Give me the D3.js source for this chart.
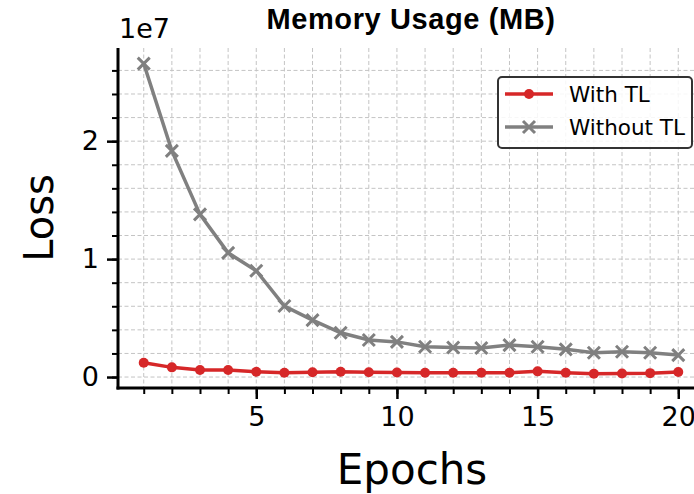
<!DOCTYPE html>
<html>
<head>
<meta charset="utf-8">
<script src="https://cdn.jsdelivr.net/npm/d3@7"></script>
<style>
  body { margin: 0; background: #fff; }
  text { font-family: "DejaVu Sans", sans-serif; fill: #000; }
</style>
</head>
<body>
<svg id="canvas"></svg>
<script>
// Memory usage loss curves

let epochs = [1, 2, 3, 4, 5, 6, 7, 8, 9, 10, 11, 12, 13, 14, 15, 16, 17, 18, 19, 20]
let withTL = [1.21e6, 0.82e6, 0.59e6, 0.59e6, 0.45e6, 0.36e6, 0.40e6, 0.45e6, 0.40e6, 0.38e6,
              0.36e6, 0.36e6, 0.36e6, 0.36e6, 0.48e6, 0.36e6, 0.28e6, 0.30e6, 0.33e6, 0.42e6]
let withoutTL = [26.58e6, 19.18e6, 13.79e6, 10.53e6, 9.01e6, 6.02e6, 4.83e6, 3.75e6, 3.14e6, 2.98e6,
                 2.57e6, 2.50e6, 2.46e6, 2.71e6, 2.57e6, 2.35e6, 2.06e6, 2.14e6, 2.06e6, 1.86e6]
let seriesNames = ['With TL', 'Without TL']
let xTicks = [5, 10, 15, 20]
let yTicks = [0, 1e7, 2e7]

//Dimensions
let width = 694
let height = 494
let plotLeft = 118
let plotRight = 705
let plotTop = 48
let plotBottom = 388

let red = '#d62728'
let grey = '#808080'

let svg = d3.select('#canvas')
            .attr('width', width)
            .attr('height', height)

let xScale = d3.scaleLinear()
               .domain([0.05, 20.95])
               .range([plotLeft - 1, plotRight])
let yScale = d3.scaleLinear()
               .domain([-0.093e7, 2.79e7])
               .range([plotBottom, plotTop])

let yMinor = d3.range(0, 2.7e7, 0.2e7)

// grid
let grid = svg.append('g')
grid.selectAll('.vgrid')
    .data(epochs)
    .enter()
    .append('line')
    .attr('x1', d => xScale(d)).attr('x2', d => xScale(d))
    .attr('y1', plotTop).attr('y2', plotBottom)
    .attr('stroke', '#c4c4c4').attr('stroke-width', 1).attr('stroke-dasharray', '4,2.5')
grid.selectAll('.hgrid')
    .data(yMinor)
    .enter()
    .append('line')
    .attr('x1', plotLeft).attr('x2', width)
    .attr('y1', d => yScale(d)).attr('y2', d => yScale(d))
    .attr('stroke', '#c4c4c4').attr('stroke-width', 1).attr('stroke-dasharray', '4,2.5')

// axes
let xAxisMinor = d3.axisBottom(xScale).tickValues(epochs).tickSize(6).tickFormat('')
let xAxis = d3.axisBottom(xScale).tickValues(xTicks).tickSize(11).tickPadding(8)
let yAxisMinor = d3.axisLeft(yScale).tickValues(yMinor).tickSize(6).tickFormat('')
let yAxis = d3.axisLeft(yScale).tickValues(yTicks).tickSize(11).tickPadding(8)
              .tickFormat(d => d / 1e7)

let addAxis = (axis, transform, sw) => {
  let g = svg.append('g').attr('transform', transform).call(axis)
  g.select('.domain').remove()
  g.selectAll('.tick line').attr('stroke', '#000').attr('stroke-width', sw)
  g.selectAll('.tick text').style('font-size', '27px').attr('fill', '#000')
  return g
}
addAxis(xAxisMinor, `translate(0,${plotBottom})`, 2)
addAxis(xAxis, `translate(0,${plotBottom})`, 2.5)
addAxis(yAxisMinor, `translate(${plotLeft},0)`, 2)
addAxis(yAxis, `translate(${plotLeft},0)`, 2.5)

// spines
svg.append('line').attr('x1', plotLeft).attr('x2', plotLeft).attr('y1', plotTop).attr('y2', plotBottom + 1.5)
   .attr('stroke', '#000').attr('stroke-width', 3)
svg.append('line').attr('x1', plotLeft - 1.5).attr('x2', width).attr('y1', plotBottom).attr('y2', plotBottom)
   .attr('stroke', '#000').attr('stroke-width', 3)

// lines
let line = d3.line()
             .x((d, i) => xScale(epochs[i]))
             .y(d => yScale(d))

svg.append('path').datum(withoutTL)
   .attr('d', line).attr('fill', 'none').attr('stroke', grey).attr('stroke-width', 3.5)
svg.append('path').datum(withTL)
   .attr('d', line).attr('fill', 'none').attr('stroke', red).attr('stroke-width', 3.5)

let xMark = (sel, s) => {
  sel.append('path')
     .attr('d', `M${-s},${-s}L${s},${s}M${-s},${s}L${s},${-s}`)
     .attr('stroke', grey).attr('stroke-width', 3).attr('fill', 'none')
}

svg.selectAll('.xm')
   .data(withoutTL)
   .enter()
   .append('g')
   .attr('transform', (d, i) => `translate(${xScale(epochs[i])},${yScale(d)})`)
   .call(xMark, 6)

svg.selectAll('.dot')
   .data(withTL)
   .enter()
   .append('circle')
   .attr('cx', (d, i) => xScale(epochs[i]))
   .attr('cy', d => yScale(d))
   .attr('r', 5)
   .attr('fill', red)

// texts
svg.append('text')
   .attr('x', 411).attr('y', 29)
   .attr('text-anchor', 'middle')
   .style('font-family', '"Liberation Sans", Arial, sans-serif')
   .style('font-weight', 'bold')
   .style('font-size', '29px')
   .style('letter-spacing', '0.6px')
   .text('Memory Usage (MB)')

svg.append('text')
   .attr('x', 119).attr('y', 38)
   .style('font-size', '27px')
   .text('1e7')

svg.append('text')
   .attr('transform', 'translate(53,218) rotate(-90)')
   .attr('text-anchor', 'middle')
   .style('font-size', '40px')
   .text('Loss')

svg.append('text')
   .attr('x', 412).attr('y', 484)
   .attr('text-anchor', 'middle')
   .style('font-size', '42px')
   .text('Epochs')

// legend
let legend = svg.append('g')
legend.append('rect')
      .attr('x', 498).attr('y', 77).attr('width', 194).attr('height', 71)
      .attr('rx', 4)
      .attr('fill', 'rgba(255,255,255,0.85)').attr('stroke', '#333').attr('stroke-width', 2)

let rows = legend.selectAll('.row')
                 .data(seriesNames)
                 .enter()
                 .append('g')
                 .attr('transform', (d, i) => `translate(505,${94 + i * 33})`)
rows.append('line')
    .attr('x1', 0).attr('x2', 48)
    .attr('stroke', (d, i) => i === 0 ? red : grey)
    .attr('stroke-width', 3.5)
rows.filter((d, i) => i === 0).append('circle').attr('cx', 24).attr('r', 5).attr('fill', red)
rows.filter((d, i) => i === 1).append('g').attr('transform', 'translate(24,0)').call(xMark, 6)
rows.append('text')
    .attr('x', 64).attr('y', 8)
    .style('font-size', '21.5px')
    .text(d => d)
</script>
</body>
</html>
